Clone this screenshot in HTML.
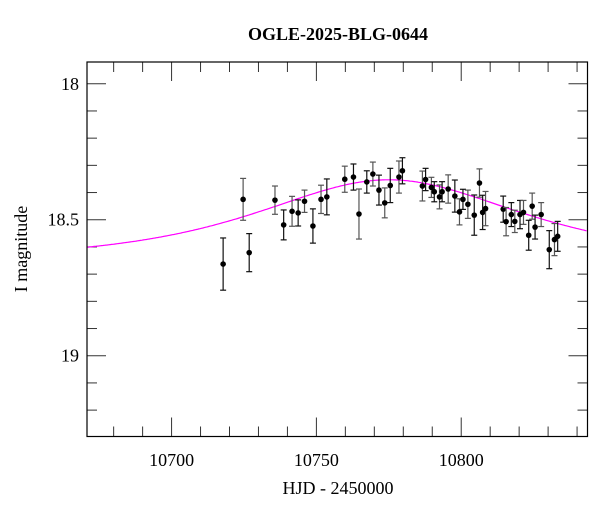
<!DOCTYPE html>
<html><head><meta charset="utf-8"><style>
body{margin:0;background:#fff}
svg text{font-family:"Liberation Serif",serif;fill:#000}
</style></head><body>
<svg id="chart" width="600" height="512" xmlns="http://www.w3.org/2000/svg">
<text x="338" y="40" font-size="18" font-weight="bold" text-anchor="middle">OGLE-2025-BLG-0644</text>
<text x="338" y="494" font-size="18" text-anchor="middle">HJD - 2450000</text>
<text x="27" y="249" font-size="18" text-anchor="middle" transform="rotate(-90 27 249)">I magnitude</text>
<g id="axes"></g><g id="model"></g><g id="points"></g>
<rect x="87" y="62" width="500.5" height="374.5" fill="none" stroke="#000" stroke-width="1.2"/>
</svg>
<script>
const times=[10717.8,10724.7,10726.8,10735.7,10738.7,10741.6,10743.7,10745.9,10748.8,10751.6,10753.6,10759.8,10762.8,10764.7,10767.4,10769.5,10771.6,10773.6,10775.5,10778.5,10779.7,10786.6,10787.7,10789.7,10790.7,10792.5,10793.4,10795.5,10797.8,10799.4,10800.6,10802.3,10804.5,10806.3,10807.4,10808.4,10814.5,10815.5,10817.3,10818.5,10820.3,10821.5,10823.3,10824.5,10825.5,10827.6,10830.4,10832.2,10833.3];
const mags=[18.663,18.425,18.621,18.428,18.519,18.469,18.475,18.432,18.523,18.425,18.416,18.351,18.343,18.479,18.361,18.332,18.391,18.438,18.374,18.343,18.320,18.376,18.352,18.381,18.397,18.416,18.397,18.387,18.413,18.471,18.425,18.443,18.483,18.365,18.473,18.459,18.461,18.507,18.481,18.506,18.481,18.473,18.557,18.450,18.527,18.481,18.610,18.573,18.561];
const errs=[0.096,0.077,0.070,0.052,0.055,0.055,0.048,0.041,0.063,0.052,0.066,0.048,0.048,0.092,0.041,0.044,0.055,0.055,0.063,0.059,0.048,0.055,0.041,0.037,0.037,0.044,0.037,0.052,0.059,0.048,0.037,0.052,0.074,0.052,0.063,0.063,0.048,0.052,0.044,0.041,0.052,0.044,0.055,0.048,0.044,0.044,0.070,0.059,0.055];
const xTicks=[10700,10750,10800];
const yTicks=[18,18.5,19];
const modelT0=10775, modelTE=54, modelU0=1.04, modelI0=18.65;
const X0=87,X1=587.5,Y0=62,Y1=436.5;
const tMin=10670.8,tMax=10843.6,mMin=17.92,mMax=19.297;
const sx=t=>X0+(t-tMin)/(tMax-tMin)*(X1-X0);
const sy=m=>Y0+(m-mMin)/(mMax-mMin)*(Y1-Y0);
const NS="http://www.w3.org/2000/svg";
function mk(tag,attrs,parent){const e=document.createElementNS(NS,tag);for(const k in attrs)e.setAttribute(k,attrs[k]);parent.appendChild(e);return e;}
const axes=document.getElementById('axes');
for(let t=10680;t<=tMax;t+=10){
 const major=xTicks.includes(t);const L=major?19:10;const x=sx(t);
 const a=mk('line',{x1:x,x2:x,y1:Y1,y2:Y1-L,stroke:'#333'},axes);
 
 
 const b=mk('line',{x1:x,x2:x,y1:Y0,y2:Y0+L,stroke:'#333'},axes);
 
 
}
xTicks.forEach(t=>{const e=mk('text',{x:sx(t),y:466,'font-size':18,'text-anchor':'middle'},axes);e.textContent=t;
 
 });
for(let i=0;i<=13;i++){const m=18+i*0.1;if(m>mMax)break;
 const major=yTicks.some(v=>Math.abs(v-m)<1e-6);const L=major?19:10;const y=sy(m);
 const a=mk('line',{x1:X0,x2:X0+L,y1:y,y2:y,stroke:'#333'},axes);
 
 
 const b=mk('line',{x1:X1,x2:X1-L,y1:y,y2:y,stroke:'#333'},axes);
 
 
}
yTicks.forEach(m=>{const e=mk('text',{x:79,y:sy(m)+6,'font-size':18,'text-anchor':'end'},axes);e.textContent=m;
 
 });
function A(u){return (u*u+2)/(u*Math.sqrt(u*u+4));}
let d='';
for(let t=tMin;t<=tMax+0.01;t+=0.5){const tau=(t-modelT0)/modelTE;const u=Math.sqrt(tau*tau+modelU0*modelU0);
 const m=modelI0-2.5*Math.log10(A(u));d+=(d?'L':'M')+sx(t).toFixed(1)+','+sy(m).toFixed(1);}
const mp=mk('path',{d:d,fill:'none',stroke:'#ff00ff','stroke-width':1.2},document.getElementById('model'));


const pts=document.getElementById('points');
times.forEach((t,i)=>{const x=sx(t),y=sy(mags[i]),y1=sy(mags[i]-errs[i]),y2=sy(mags[i]+errs[i]);
 const col=i%2?'#555':'#111';
 const g=mk('g',{},pts);
 
 
 mk('line',{x1:x,x2:x,y1:y1,y2:y2,stroke:col,'stroke-width':1.2},g);
 mk('line',{x1:x-3,x2:x+3,y1:y1,y2:y1,stroke:col,'stroke-width':1.2},g);
 mk('line',{x1:x-3,x2:x+3,y1:y2,y2:y2,stroke:col,'stroke-width':1.2},g);
 mk('circle',{cx:x,cy:y,r:2.8,fill:'#000'},g);
});
</script>
</body></html>
